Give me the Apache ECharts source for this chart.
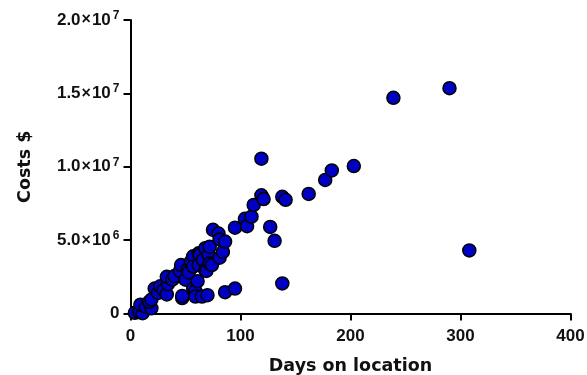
<!DOCTYPE html>
<html>
<head>
<meta charset="utf-8">
<script src="https://cdn.jsdelivr.net/npm/echarts@6/dist/echarts.min.js"></script>
<style>
  html, body { margin: 0; padding: 0; background: #fff; }
  #chart { width: 587px; height: 375px; }
</style>
</head>
<body>
<div id="chart"></div>
<script>
// days on location
const days = [
  4, 8, 11, 9, 14, 19, 17, 19, 22, 25, 27, 30, 33, 34, 33, 38, 40, 45, 46, 47,
  47, 50, 52, 53, 55, 57, 57, 57, 59, 59, 61, 62, 62, 63, 65, 66, 68, 68, 69, 70,
  71, 72, 72, 74, 75, 80, 81, 81, 84, 86, 86, 95, 95, 104, 106, 110, 112, 119, 119, 121,
  127, 131, 138, 138, 141, 162, 177, 183, 203, 239, 290, 308
];
// costs in $ (millions)
const costsM = [
  0.05, 0.1, 0.02, 0.6, 0.45, 0.35, 0.8, 0.95, 1.7, 1.4, 1.85, 1.6, 1.3, 2.0, 2.5, 2.3, 2.55, 2.9, 3.3, 1.05,
  1.2, 2.3, 3.0, 2.8, 3.55, 3.9, 3.2, 1.7, 1.55, 1.15, 2.2, 4.1, 3.3, 4.0, 1.15, 3.65, 4.45, 2.95, 2.9, 1.25,
  4.0, 4.55, 3.4, 3.3, 5.7, 5.45, 5.05, 3.8, 4.2, 4.9, 1.45, 1.7, 5.85, 6.45, 5.95, 6.6, 7.4, 10.55, 8.05, 7.8,
  5.9, 4.95, 7.95, 2.05, 7.75, 8.15, 9.1, 9.75, 10.05, 14.7, 15.35, 4.3
];
const xTicks = [0, 100, 200, 300, 400];
const yTicks = [0, 5e6, 1e7, 1.5e7, 2e7];

const points = days.map((d, i) => [d, costsM[i] * 1e6]);

const labelFont = '"Liberation Sans", Arial, sans-serif';
const titleFont = '"DejaVu Sans", Verdana, sans-serif';

function sciLabel(v) {
  if (v === 0) return '{m|0}';
  const exp = Math.floor(Math.log10(v));
  const mant = (v / Math.pow(10, exp)).toFixed(1);
  return '{m|' + mant + '}{x|×}{t|10}{e|' + exp + '}';
}

const chart = echarts.init(document.getElementById('chart'));

chart.setOption({
  animation: false,
  backgroundColor: '#fff',
  grid: {
    left: 130.5,
    right: 16.5,
    top: 20,
    bottom: 61.5,
    outerBoundsMode: 'none',
  },
  xAxis: {
    type: 'value',
    min: xTicks[0],
    max: xTicks[xTicks.length - 1],
    interval: 100,
    name: 'Days on location',
    nameLocation: 'middle',
    nameGap: 44,
    nameTextStyle: { color: '#111', fontSize: 17.5, fontWeight: 'bold', fontFamily: titleFont },
    axisLine: { show: true, onZero: false, lineStyle: { color: '#000', width: 2 } },
    axisTick: { show: true, length: 7, lineStyle: { color: '#000', width: 2 } },
    axisLabel: { color: '#111', fontSize: 17, fontWeight: 'bold', fontFamily: labelFont, margin: 14 },
    splitLine: { show: false },
  },
  yAxis: {
    type: 'value',
    min: yTicks[0],
    max: yTicks[yTicks.length - 1],
    interval: 5e6,
    name: 'Costs $',
    nameLocation: 'middle',
    nameGap: 96,
    nameTextStyle: { color: '#111', fontSize: 17.5, fontWeight: 'bold', fontFamily: titleFont },
    axisLine: { show: true, onZero: false, lineStyle: { color: '#000', width: 2 } },
    axisTick: { show: true, length: 7, lineStyle: { color: '#000', width: 2 } },
    axisLabel: {
      margin: 11,
      formatter: sciLabel,
      rich: {
        m: { color: '#111', fontSize: 17, fontWeight: 'bold', fontFamily: labelFont },
        x: { color: '#111', fontSize: 16, fontWeight: 'bold', fontFamily: labelFont, padding: [0, 1, 0, 1] },
        t: { color: '#111', fontSize: 17, fontWeight: 'bold', fontFamily: labelFont, padding: [0, 1, 0, 0] },
        e: { color: '#111', fontSize: 12, fontWeight: 'bold', fontFamily: labelFont, padding: [0, 0, 9, 1] },
      },
    },
    splitLine: { show: false },
  },
  series: [
    {
      type: 'scatter',
      data: points,
      symbol: 'circle',
      symbolSize: 13,
      itemStyle: {
        color: '#0000c4',
        borderColor: '#000',
        borderWidth: 1.5,
        opacity: 1,
      },
    },
  ],
});
</script>
</body>
</html>
